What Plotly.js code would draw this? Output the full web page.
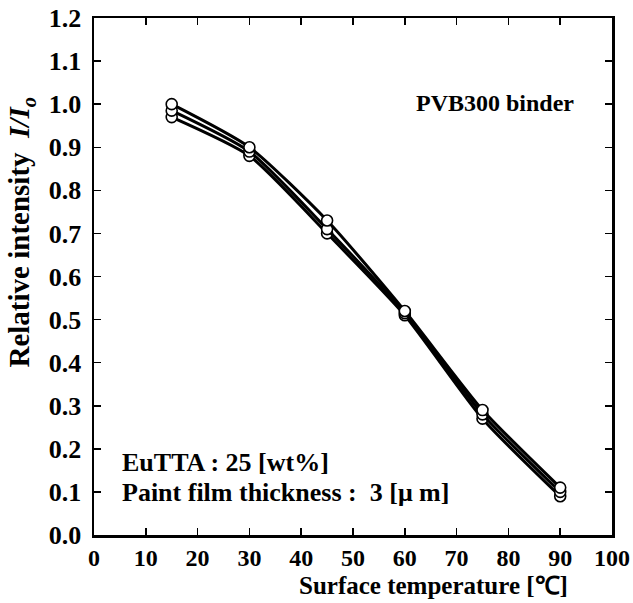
<!DOCTYPE html>
<html><head><meta charset="utf-8">
<script src="https://cdn.plot.ly/plotly-3.0.1.min.js"></script>
<style>body{margin:0;background:#fff}#c{width:633px;height:603px}</style>
</head><body><div id="c"></div>
<script>
const temps = [15, 30, 45, 60, 75, 90];
const seriesA = [1.00, 0.90, 0.73, 0.52, 0.29, 0.11];
const seriesB = [0.985, 0.89, 0.71, 0.515, 0.28, 0.10];
const seriesC = [0.97, 0.88, 0.70, 0.51, 0.27, 0.09];
const xTicks = [0,10,20,30,40,50,60,70,80,90,100];
const yTicks = [0,0.1,0.2,0.3,0.4,0.5,0.6,0.7,0.8,0.9,1.0,1.1,1.2];

const F = "Liberation Serif, Times New Roman, serif";
function tr(y){return {x:temps,y:y,type:'scatter',mode:'lines+markers',
  line:{color:'#000',width:3,shape:'spline',smoothing:0.6},
  marker:{symbol:'circle',size:11,color:'#fff',line:{color:'#000',width:1.6}},
  showlegend:false,cliponaxis:false};}
const data=[tr(seriesC),tr(seriesB),tr(seriesA)];
function ax(extra){return Object.assign({showline:true,linecolor:'#000',linewidth:2.5,mirror:'ticks',ticks:'inside',
  ticklen:7,tickwidth:1.5,tickcolor:'#000',showgrid:false,zeroline:false,
  tickfont:{family:F,size:24,color:'#000'}},extra);}
const layout={width:633,height:603,margin:{l:94,r:21,t:18,b:68},
  paper_bgcolor:'#fff',plot_bgcolor:'#fff',
  xaxis:ax({range:[0,100],tickmode:'array',tickvals:xTicks,ticktext:xTicks.map(v=>'<b>'+v+'</b>'),ticklabelstandoff:0}),
  yaxis:ax({range:[0,1.2],tickmode:'array',tickvals:yTicks,ticktext:yTicks.map(v=>'<b>'+v.toFixed(1)+'</b>'),ticklabelstandoff:5,
    tickfont:{family:F,size:26,color:'#000'}}),
  annotations:[
    {xref:'paper',yref:'paper',x:0.656,y:-0.097,xanchor:'center',yanchor:'middle',showarrow:false,
     text:'<b>Surface temperature [℃]</b>',font:{family:F,size:25,color:'#000'}},
    {xref:'paper',yref:'paper',x:-0.14,y:0.586,xanchor:'center',yanchor:'middle',showarrow:false,textangle:-90,
     text:'<b>Relative intensity  <i>I/I<sub>o</sub></i></b>',font:{family:F,size:29,color:'#000'}},
    {xref:'paper',yref:'paper',x:0.93,y:0.835,xanchor:'right',yanchor:'middle',showarrow:false,
     text:'<b>PVB300 binder</b>',font:{family:F,size:24,color:'#000'}},
    {xref:'paper',yref:'paper',x:0.05,y:0.14,xanchor:'left',yanchor:'middle',showarrow:false,
     text:'<b>EuTTA : 25 [wt%]</b>',font:{family:F,size:26,color:'#000'}},
    {xref:'paper',yref:'paper',x:0.05,y:0.083,xanchor:'left',yanchor:'middle',showarrow:false,
     text:'<b>Paint film thickness :  3 [μ m]</b>',font:{family:F,size:26,color:'#000'}}
  ]};
Plotly.newPlot('c',data,layout,{staticPlot:true});
</script></body></html>
